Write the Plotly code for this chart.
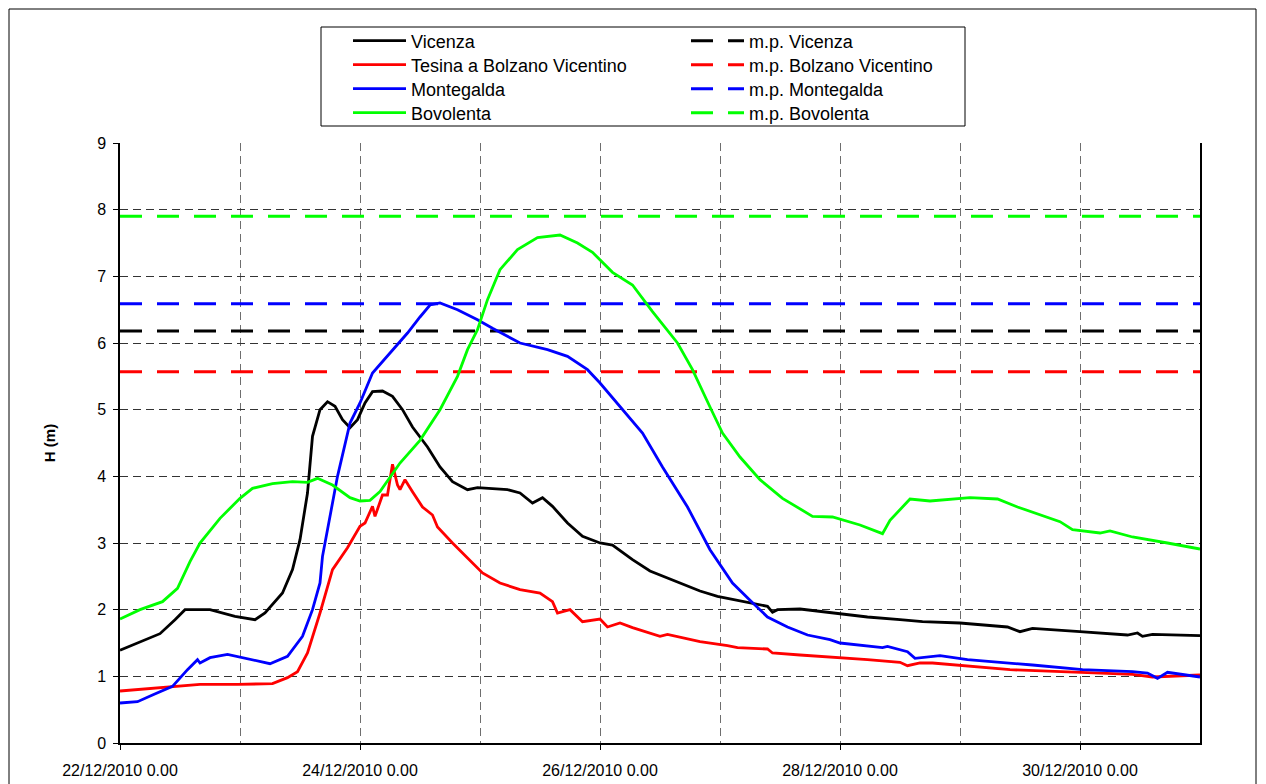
import plotly.graph_objects as go

# ---------------- data ----------------
vicenza_t = ["2010-12-22 00:00","2010-12-22 04:00","2010-12-22 08:00","2010-12-22 11:00","2010-12-22 13:00",
             "2010-12-22 18:00","2010-12-22 23:00","2010-12-23 03:00","2010-12-23 05:00","2010-12-23 08:30",
             "2010-12-23 10:30","2010-12-23 12:00","2010-12-23 13:30","2010-12-23 14:30","2010-12-23 16:00",
             "2010-12-23 17:30","2010-12-23 19:00","2010-12-23 20:30","2010-12-23 22:00","2010-12-23 23:30",
             "2010-12-24 01:00","2010-12-24 02:30","2010-12-24 04:30","2010-12-24 06:30","2010-12-24 08:30",
             "2010-12-24 10:30","2010-12-24 13:30","2010-12-24 16:00","2010-12-24 18:30","2010-12-24 21:30",
             "2010-12-24 23:30","2010-12-25 05:30","2010-12-25 08:00","2010-12-25 10:30","2010-12-25 12:30",
             "2010-12-25 14:30","2010-12-25 17:30","2010-12-25 20:30","2010-12-26 00:00","2010-12-26 02:30",
             "2010-12-26 06:30","2010-12-26 10:00","2010-12-26 14:30","2010-12-26 20:00","2010-12-26 23:30",
             "2010-12-27 04:30","2010-12-27 09:30","2010-12-27 10:30","2010-12-27 11:30","2010-12-27 16:00",
             "2010-12-27 22:30","2010-12-28 05:30","2010-12-28 12:00","2010-12-28 16:30","2010-12-29 00:00",
             "2010-12-29 09:30","2010-12-29 12:00","2010-12-29 14:30","2010-12-30 00:00","2010-12-30 09:30",
             "2010-12-30 11:30","2010-12-30 12:30","2010-12-30 14:30","2010-12-31 00:00"]
vicenza_h = [1.39, 1.52, 1.64, 1.85, 2.00,
             2.00, 1.90, 1.85, 1.95, 2.25,
             2.60, 3.05, 3.75, 4.60, 5.00,
             5.12, 5.05, 4.85, 4.73, 4.85,
             5.10, 5.27, 5.28, 5.20, 5.00,
             4.74, 4.44, 4.14, 3.92, 3.80,
             3.83, 3.80, 3.75, 3.60, 3.68,
             3.55, 3.30, 3.10, 3.00, 2.97,
             2.75, 2.58, 2.44, 2.28, 2.20,
             2.12, 2.05, 1.96, 2.00, 2.01,
             1.95, 1.89, 1.85, 1.82, 1.80,
             1.74, 1.67, 1.72, 1.67, 1.62,
             1.65, 1.60, 1.63, 1.61]

tesina_t = ["2010-12-22 00:00","2010-12-22 10:00","2010-12-22 16:00","2010-12-22 23:30","2010-12-23 06:30",
            "2010-12-23 09:30","2010-12-23 11:30","2010-12-23 13:30","2010-12-23 16:00","2010-12-23 18:30",
            "2010-12-23 21:30","2010-12-24 00:00","2010-12-24 01:00","2010-12-24 02:30","2010-12-24 03:00",
            "2010-12-24 04:30","2010-12-24 05:30","2010-12-24 06:30","2010-12-24 07:30","2010-12-24 08:00",
            "2010-12-24 09:00","2010-12-24 10:30","2010-12-24 12:30","2010-12-24 14:30","2010-12-24 15:30",
            "2010-12-24 18:30","2010-12-24 21:30","2010-12-25 00:30","2010-12-25 04:00","2010-12-25 08:00",
            "2010-12-25 12:00","2010-12-25 14:30","2010-12-25 15:30","2010-12-25 18:00","2010-12-25 20:30",
            "2010-12-26 00:00","2010-12-26 01:30","2010-12-26 04:00","2010-12-26 06:30","2010-12-26 12:00",
            "2010-12-26 13:30","2010-12-26 20:00","2010-12-27 01:30","2010-12-27 03:30","2010-12-27 09:30",
            "2010-12-27 10:30","2010-12-27 16:00","2010-12-27 22:30","2010-12-28 05:30","2010-12-28 12:00",
            "2010-12-28 13:30","2010-12-28 16:00","2010-12-28 18:30","2010-12-29 10:00","2010-12-29 21:30",
            "2010-12-30 10:30","2010-12-30 14:30","2010-12-31 00:00"]
tesina_h = [0.78, 0.84, 0.88, 0.88, 0.89,
            0.98, 1.07, 1.35, 1.95, 2.60,
            2.93, 3.25, 3.30, 3.55, 3.40,
            3.72, 3.72, 4.18, 3.87, 3.80,
            3.95, 3.77, 3.54, 3.42, 3.24,
            3.00, 2.78, 2.55, 2.40, 2.30,
            2.25, 2.12, 1.95, 2.00, 1.82,
            1.86, 1.74, 1.80, 1.73, 1.60,
            1.63, 1.52, 1.46, 1.43, 1.41,
            1.35, 1.32, 1.29, 1.25, 1.21,
            1.16, 1.20, 1.20, 1.10, 1.07,
            1.03, 0.99, 1.02]

montegalda_t = ["2010-12-22 00:00","2010-12-22 03:30","2010-12-22 06:30","2010-12-22 10:30","2010-12-22 13:30",
                "2010-12-22 15:30","2010-12-22 16:00","2010-12-22 18:00","2010-12-22 21:30","2010-12-23 01:30",
                "2010-12-23 06:00","2010-12-23 09:30","2010-12-23 12:30","2010-12-23 14:30","2010-12-23 16:00",
                "2010-12-23 16:30","2010-12-23 19:30","2010-12-23 22:00","2010-12-24 00:00","2010-12-24 02:30",
                "2010-12-24 06:30","2010-12-24 09:30","2010-12-24 12:00","2010-12-24 14:00","2010-12-24 16:00",
                "2010-12-24 19:30","2010-12-24 23:30","2010-12-25 02:30","2010-12-25 08:00","2010-12-25 13:30",
                "2010-12-25 17:30","2010-12-25 21:30","2010-12-26 00:00","2010-12-26 04:00","2010-12-26 08:30",
                "2010-12-26 12:30","2010-12-26 17:30","2010-12-26 22:00","2010-12-27 02:30","2010-12-27 06:00",
                "2010-12-27 09:30","2010-12-27 13:30","2010-12-27 17:30","2010-12-27 22:00","2010-12-28 00:00",
                "2010-12-28 08:30","2010-12-28 09:30","2010-12-28 13:30","2010-12-28 15:00","2010-12-28 20:00",
                "2010-12-29 01:30","2010-12-29 14:30","2010-12-30 00:30","2010-12-30 10:30","2010-12-30 13:30",
                "2010-12-30 15:30","2010-12-30 17:30","2010-12-31 00:00"]
montegalda_h = [0.60, 0.62, 0.72, 0.85, 1.10,
                1.25, 1.20, 1.28, 1.33, 1.26,
                1.19, 1.30, 1.60, 2.00, 2.40,
                2.80, 4.00, 4.80, 5.10, 5.55,
                5.90, 6.15, 6.39, 6.57, 6.60,
                6.50, 6.35, 6.22, 6.00, 5.90,
                5.80, 5.60, 5.40, 5.04, 4.65,
                4.14, 3.54, 2.90, 2.40, 2.14,
                1.89, 1.74, 1.62, 1.55, 1.50,
                1.43, 1.45, 1.37, 1.27, 1.31,
                1.25, 1.17, 1.10, 1.07, 1.05,
                0.97, 1.06, 0.99]

bovolenta_t = ["2010-12-22 00:00","2010-12-22 04:00","2010-12-22 08:30","2010-12-22 11:30","2010-12-22 14:00",
               "2010-12-22 16:00","2010-12-22 20:00","2010-12-23 00:00","2010-12-23 02:30","2010-12-23 06:30",
               "2010-12-23 10:30","2010-12-23 13:30","2010-12-23 15:30","2010-12-23 18:30","2010-12-23 22:00",
               "2010-12-24 00:00","2010-12-24 02:00","2010-12-24 04:00","2010-12-24 08:00","2010-12-24 12:00",
               "2010-12-24 16:00","2010-12-24 19:30","2010-12-24 21:30","2010-12-24 23:30","2010-12-25 01:30",
               "2010-12-25 04:00","2010-12-25 07:30","2010-12-25 11:30","2010-12-25 16:00","2010-12-25 19:30",
               "2010-12-25 22:30","2010-12-26 02:30","2010-12-26 06:30","2010-12-26 10:30","2010-12-26 15:30",
               "2010-12-26 18:30","2010-12-26 22:00","2010-12-27 00:30","2010-12-27 04:00","2010-12-27 08:00",
               "2010-12-27 12:30","2010-12-27 18:30","2010-12-27 22:30","2010-12-28 04:00","2010-12-28 08:30",
               "2010-12-28 10:00","2010-12-28 14:00","2010-12-28 18:00","2010-12-29 02:00","2010-12-29 07:30",
               "2010-12-29 11:30","2010-12-29 16:00","2010-12-29 20:00","2010-12-29 22:30","2010-12-30 04:00",
               "2010-12-30 06:00","2010-12-30 10:30","2010-12-30 17:30","2010-12-31 00:00"]
bovolenta_h = [1.86, 2.00, 2.12, 2.32, 2.72,
               3.00, 3.37, 3.67, 3.82, 3.89,
               3.92, 3.91, 3.97, 3.87, 3.68,
               3.63, 3.64, 3.77, 4.20, 4.54,
               5.00, 5.50, 5.90, 6.20, 6.65,
               7.10, 7.40, 7.58, 7.62, 7.50,
               7.36, 7.06, 6.87, 6.47, 6.00,
               5.60, 5.04, 4.65, 4.29, 3.95,
               3.67, 3.40, 3.39, 3.27, 3.14,
               3.34, 3.66, 3.63, 3.68, 3.66,
               3.54, 3.42, 3.32, 3.20, 3.15,
               3.18, 3.09, 3.00, 2.91]

# livelli di "m.p." (dashed reference levels)
mp_names = ["m.p. Vicenza", "m.p. Bolzano Vicentino", "m.p. Montegalda", "m.p. Bovolenta"]
mp_levels = [6.18, 5.57, 6.59, 7.90]
mp_span = ["2010-12-22 00:00", "2010-12-31 00:00"]

series_names = ["Vicenza", "Tesina a Bolzano Vicentino", "Montegalda", "Bovolenta"]
series_colors = ["#000000", "#ff0000", "#0000ff", "#00ff00"]

x_tickvals = ["2010-12-22", "2010-12-24", "2010-12-26", "2010-12-28", "2010-12-30"]
x_ticktext = ["22/12/2010 0.00", "24/12/2010 0.00", "26/12/2010 0.00", "28/12/2010 0.00", "30/12/2010 0.00"]

# ---------------- figure ----------------
FONT = "Arial, 'Liberation Sans', sans-serif"
OFF = 8                      # page body margin
W, H = 1250, 776             # figure size
L, T = 112, 135              # plot area starts at page (120, 143)
PW, PH = 1080, 600
R = W - L - PW
B = H - T - PH

def px2paper_x(page_x):
    return (page_x - OFF - L) / PW

def px2paper_y(page_y):
    return (T + PH - (page_y - OFF)) / PH

fig = go.Figure()

legend_rows_y = [41, 65, 89, 113]     # page y of each legend row
legend_col_x = [348, 686]             # page x of each legend column

solid = [(vicenza_t, vicenza_h), (tesina_t, tesina_h), (montegalda_t, montegalda_h), (bovolenta_t, bovolenta_h)]
legend_layouts = {}
for i in range(4):
    t, h = solid[i]
    lname_s = "legend" if i == 0 else f"legend{2 * i + 1}"
    lname_d = f"legend{2 * i + 2}"
    fig.add_trace(go.Scatter(x=t, y=h, mode="lines", name=series_names[i],
                             line=dict(color=series_colors[i], width=2.8), legend=lname_s))
    fig.add_trace(go.Scatter(x=mp_span, y=[mp_levels[i], mp_levels[i]], mode="lines", name=mp_names[i],
                             line=dict(color=series_colors[i], width=3, dash="22px,15px"), legend=lname_d))
    for lname, cx in ((lname_s, legend_col_x[0]), (lname_d, legend_col_x[1])):
        legend_layouts[lname] = dict(x=px2paper_x(cx), y=px2paper_y(legend_rows_y[i]),
                                     xanchor="left", yanchor="middle", orientation="v",
                                     bgcolor="rgba(0,0,0,0)", borderwidth=0,
                                     font=dict(family=FONT, size=18, color="black"), itemwidth=53)

grid_dash = "8px,5px"
fig.update_layout(
    width=W, height=H,
    margin=dict(l=L, r=R, t=T, b=B, pad=0, autoexpand=False),
    paper_bgcolor="white", plot_bgcolor="white",
    font=dict(family=FONT, size=16, color="black"),
    showlegend=True,
    xaxis=dict(
        type="date", automargin=False,
        range=["2010-12-22 00:00", "2010-12-31 00:00"],
        tickvals=x_tickvals, ticktext=x_ticktext,
        ticks="outside", ticklen=5, tickcolor="black",
        ticklabelstandoff=7,
        showline=True, linecolor="black", linewidth=1.5,
        showgrid=True, gridcolor="#6e6e6e", gridwidth=1.2, griddash=grid_dash,
        minor=dict(dtick=86400000, showgrid=True, gridcolor="#6e6e6e", gridwidth=1.2, griddash=grid_dash,
                   ticks=""),
        zeroline=False,
        tickfont=dict(family=FONT, size=16),
    ),
    yaxis=dict(
        range=[0, 9], dtick=1, tick0=0, automargin=False,
        ticks="outside", ticklen=5, tickcolor="black",
        ticklabelstandoff=4,
        showline=True, linecolor="black", linewidth=1.5, mirror=True,
        showgrid=True, gridcolor="#333333", gridwidth=1, griddash=grid_dash,
        zeroline=False,
        tickfont=dict(family=FONT, size=16),
        title=dict(text="<b>H (m)</b>", font=dict(family=FONT, size=15), standoff=38),
    ),
    shapes=[
        # legend box
        dict(type="rect", xref="paper", yref="paper",
             x0=px2paper_x(321), x1=px2paper_x(965), y0=px2paper_y(126), y1=px2paper_y(27),
             line=dict(color="black", width=1), fillcolor="rgba(0,0,0,0)", layer="above"),
        # outer chart frame
        dict(type="rect", xref="paper", yref="paper",
             x0=px2paper_x(9), x1=px2paper_x(1256), y0=px2paper_y(800), y1=px2paper_y(9),
             line=dict(color="black", width=1), fillcolor="rgba(0,0,0,0)", layer="above"),
    ],
)
fig.update_layout(**legend_layouts)

fig.write_html("out.html")
